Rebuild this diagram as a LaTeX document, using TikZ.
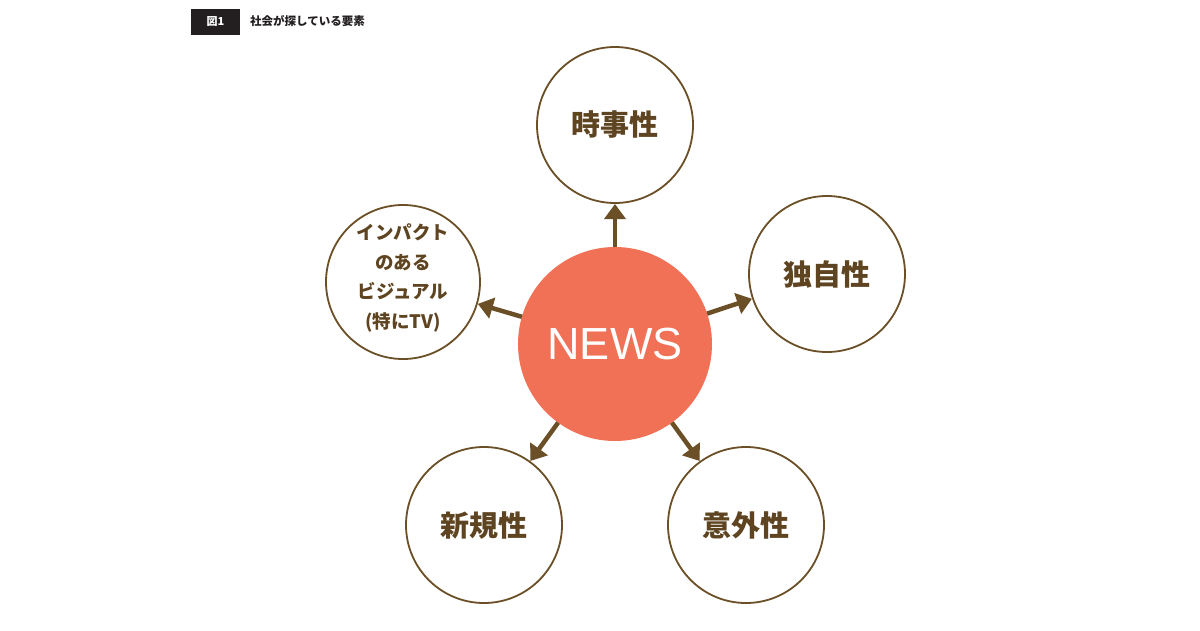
\documentclass[tikz,border=0pt]{standalone}
\usepackage{fontspec}
\setmainfont{Liberation Sans}
\newfontfamily\jpfont{Noto Sans CJK JP}
\usetikzlibrary{arrows.meta}
\definecolor{brownline}{HTML}{6B4F26}
\definecolor{browntext}{HTML}{5E4420}
\definecolor{newsorange}{HTML}{F07155}
\definecolor{headblack}{HTML}{231F20}
\tikzset{
  elem/.style={circle, draw=brownline, line width=1.8pt, minimum size=156pt, inner sep=0pt, outer sep=0pt,
    text=browntext, font=\jpfont\bfseries\fontsize{29}{34}\selectfont, align=center},
  small/.style={elem, font=\jpfont\bfseries\fontsize{18.5}{29.5}\selectfont, minimum size=154pt},
  arr/.style={draw=brownline, line width=4.5pt, -{Triangle[length=15pt,width=21pt]}, shorten >=1pt},
}
\begin{document}
\begin{tikzpicture}[x=1pt,y=-1pt]
\useasboundingbox (0,0) rectangle (1200,630);
\fill[white] (0,0) rectangle (1200,630);
% header
\node[fill=headblack, minimum width=49pt, minimum height=26pt, inner sep=0pt, text=white,
  font=\jpfont\bfseries\fontsize{11}{13}\selectfont] (fig) at (215.5,21.5) {図1};
\node[anchor=west, inner sep=0pt, text=headblack, font=\jpfont\bfseries\fontsize{11.5}{13}\selectfont]
  (title) at (250,21.5) {社会が探している要素};
% center
\node[circle, fill=newsorange, minimum size=194pt, inner sep=0pt, outer sep=0pt, text=white,
  font=\fontsize{45}{50}\selectfont] (news) at (615,344) {NEWS};
% elements
\node[elem] (top) at (615,125) {時事性};
\node[elem] (right) at (827,274) {独自性};
\node[small] (left) at (403,282) {\raisebox{4pt}[\height][\depth]{\begin{tabular}{@{}c@{}}インパクト\\のある\\ビジュアル\\(特にTV)\end{tabular}}};
\node[elem] (bl) at (484,525) {新規性};
\node[elem] (br) at (746,525) {意外性};
% arrows
\draw[arr] (news) -- (top);
\draw[arr] (news) -- (right);
\draw[arr] (news) -- (left);
\draw[arr] (news) -- (bl);
\draw[arr] (news) -- (br);
\end{tikzpicture}
\end{document}
